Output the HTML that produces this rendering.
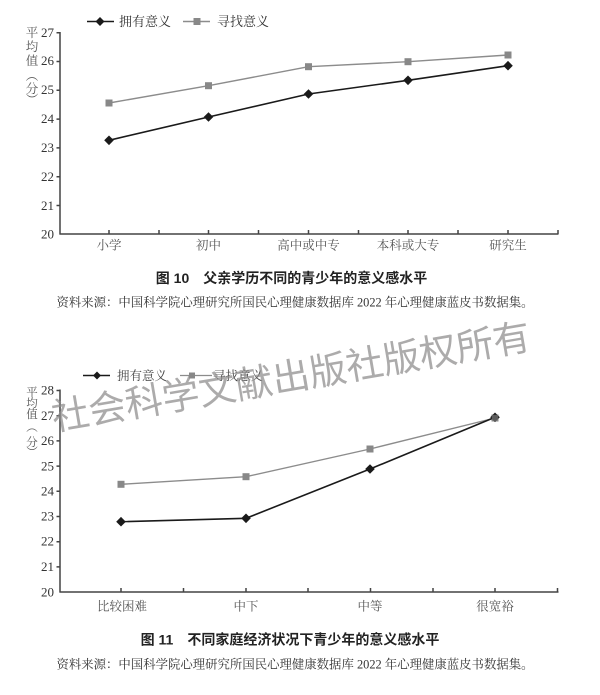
<!DOCTYPE html>
<html><head><meta charset="utf-8"><style>
html,body{margin:0;padding:0;background:#fff;}
svg{display:block;}
.serif{font-family:"Liberation Serif","Noto Serif CJK SC",serif;}
.sans{font-family:"Liberation Sans","Noto Sans CJK SC",sans-serif;}
</style></head><body>
<svg width="600" height="695" viewBox="0 0 600 695" xmlns="http://www.w3.org/2000/svg">
<rect width="600" height="695" fill="#fff"/>

<!-- ========== Chart 1 ========== -->
<g class="serif" fill="#333">
  <line x1="87" y1="21.5" x2="114" y2="21.5" stroke="#1a1a1a" stroke-width="1.6"/>
  <path d="M100 17 L104.5 21.5 L100 26 L95.5 21.5 Z" fill="#1a1a1a"/>
  <text x="119" y="26" font-size="13" fill="#333">拥有意义</text>
  <line x1="183" y1="21.5" x2="210" y2="21.5" stroke="#8c8c8c" stroke-width="1.4"/>
  <rect x="193.5" y="18" width="7" height="7" fill="#888"/>
  <text x="217" y="26" font-size="13" fill="#333">寻找意义</text>

  <g font-size="12.5" fill="#555" text-anchor="middle">
    <text x="32" y="37">平</text>
    <text x="32" y="51">均</text>
    <text x="32" y="65">值</text>
    <text x="32" y="80">︵</text>
    <text x="32" y="93">分</text>
    <text x="32" y="104">︶</text>
  </g>

  <g font-size="13" text-anchor="end" fill="#333">
    <text x="54" y="37">27</text>
    <text x="54" y="65">26</text>
    <text x="54" y="94">25</text>
    <text x="54" y="123">24</text>
    <text x="54" y="152">23</text>
    <text x="54" y="181">22</text>
    <text x="54" y="210">21</text>
    <text x="54" y="238.5">20</text>
  </g>

  <g stroke="#444" stroke-width="1.5" fill="none">
    <line x1="60" y1="32" x2="60" y2="234.5"/>
    <line x1="59.5" y1="234" x2="558.5" y2="234"/>
    <path d="M56.5 32.7H60 M56.5 61.5H60 M56.5 90.3H60 M56.5 119.1H60 M56.5 147.9H60 M56.5 176.7H60 M56.5 205.5H60"/>
    <path d="M109 230V234 M159 230V234 M208.5 230V234 M258.5 230V234 M308.5 230V234 M358.5 230V234 M408 230V234 M458 230V234 M508 230V234 M558 230V234"/>
  </g>

  <g font-size="12.5" text-anchor="middle" fill="#555">
    <text x="109" y="249.5">小学</text>
    <text x="208.5" y="249.5">初中</text>
    <text x="308.5" y="249.5">高中或中专</text>
    <text x="408" y="249.5">本科或大专</text>
    <text x="508" y="249.5">研究生</text>
  </g>

  <polyline points="109,103 208.5,85.7 308.5,66.7 408,61.7 508,55" fill="none" stroke="#8c8c8c" stroke-width="1.4"/>
  <g fill="#888">
    <rect x="105.5" y="99.5" width="7" height="7"/>
    <rect x="205" y="82.2" width="7" height="7"/>
    <rect x="305" y="63.2" width="7" height="7"/>
    <rect x="404.5" y="58.2" width="7" height="7"/>
    <rect x="504.5" y="51.5" width="7" height="7"/>
  </g>
  <polyline points="109,140.3 208.5,117 308.5,94 408,80.3 508,65.7" fill="none" stroke="#1a1a1a" stroke-width="1.6"/>
  <g fill="#1a1a1a">
    <path d="M109 135.5 L113.8 140.3 L109 145.1 L104.2 140.3 Z"/>
    <path d="M208.5 112.2 L213.3 117 L208.5 121.8 L203.7 117 Z"/>
    <path d="M308.5 89.2 L313.3 94 L308.5 98.8 L303.7 94 Z"/>
    <path d="M408 75.5 L412.8 80.3 L408 85.1 L403.2 80.3 Z"/>
    <path d="M508 60.9 L512.8 65.7 L508 70.5 L503.2 65.7 Z"/>
  </g>
</g>

<text class="sans" x="291.5" y="283" font-size="14" font-weight="bold" text-anchor="middle" fill="#222">图 10　父亲学历不同的青少年的意义感水平</text>
<text class="serif" x="295" y="306.5" font-size="12.4" text-anchor="middle" fill="#333">资料来源：中国科学院心理研究所国民心理健康数据库 2022 年心理健康蓝皮书数据集。</text>

<!-- ========== Chart 2 ========== -->
<g class="serif" fill="#333">
  <line x1="83" y1="375.5" x2="110" y2="375.5" stroke="#1a1a1a" stroke-width="1.5"/>
  <path d="M97 371.5 L101 375.5 L97 379.5 L93 375.5 Z" fill="#1a1a1a"/>
  <text x="117" y="380" font-size="12.5" fill="#444">拥有意义</text>
  <line x1="180" y1="375.5" x2="212" y2="375.5" stroke="#8c8c8c" stroke-width="1.3"/>
  <rect x="189" y="372.5" width="6" height="6" fill="#888"/>
  <text x="213" y="380" font-size="12.5" fill="#444">寻找意义</text>

  <g font-size="11.5" fill="#555" text-anchor="middle">
    <text x="32" y="396">平</text>
    <text x="32" y="407">均</text>
    <text x="32" y="418">值</text>
    <text x="32" y="431">︵</text>
    <text x="32" y="446">分</text>
    <text x="32" y="456">︶</text>
  </g>

  <g font-size="13" text-anchor="end" fill="#333">
    <text x="54" y="394.5">28</text>
    <text x="54" y="420">27</text>
    <text x="54" y="445">26</text>
    <text x="54" y="470.5">25</text>
    <text x="54" y="495.5">24</text>
    <text x="54" y="520.5">23</text>
    <text x="54" y="545.5">22</text>
    <text x="54" y="571">21</text>
    <text x="54" y="596.5">20</text>
  </g>

  <g stroke="#444" stroke-width="1.5" fill="none">
    <line x1="60" y1="389.5" x2="60" y2="592.5"/>
    <line x1="59.5" y1="592" x2="558.5" y2="592"/>
    <path d="M56.5 390.5H60 M56.5 415.7H60 M56.5 440.9H60 M56.5 466.1H60 M56.5 491.3H60 M56.5 516.5H60 M56.5 541.7H60 M56.5 566.9H60"/>
    <path d="M121 588V592 M183.5 588V592 M246 588V592 M308 588V592 M370.5 588V592 M433 588V592 M495 588V592 M557.5 588V592"/>
  </g>

  <g font-size="12.5" text-anchor="middle" fill="#555">
    <text x="122" y="610.5">比较困难</text>
    <text x="246" y="610.5">中下</text>
    <text x="370" y="610.5">中等</text>
    <text x="495" y="610.5">很宽裕</text>
  </g>

  <polyline points="121,484.3 246,476.7 370,449 495,418" fill="none" stroke="#8c8c8c" stroke-width="1.4"/>
  <g fill="#888">
    <rect x="117.5" y="480.8" width="7" height="7"/>
    <rect x="242.5" y="473.2" width="7" height="7"/>
    <rect x="366.5" y="445.5" width="7" height="7"/>
    <rect x="491.5" y="414.5" width="7" height="7"/>
  </g>
  <polyline points="121,521.7 246,518.3 370,469 495,417.3" fill="none" stroke="#1a1a1a" stroke-width="1.6"/>
  <g fill="#1a1a1a">
    <path d="M121 516.9 L125.8 521.7 L121 526.5 L116.2 521.7 Z"/>
    <path d="M246 513.5 L250.8 518.3 L246 523.1 L241.2 518.3 Z"/>
    <path d="M370 464.2 L374.8 469 L370 473.8 L365.2 469 Z"/>
    <path d="M495 412.5 L499.8 417.3 L495 422.1 L490.2 417.3 Z"/>
  </g>
  <rect x="491.8" y="414.8" width="6.4" height="6.4" fill="#888" opacity="0.6"/>
</g>

<text class="sans" x="290" y="644.5" font-size="14" font-weight="bold" text-anchor="middle" fill="#222">图 11　不同家庭经济状况下青少年的意义感水平</text>
<text class="serif" x="295" y="668.5" font-size="12.4" text-anchor="middle" fill="#333">资料来源：中国科学院心理研究所国民心理健康数据库 2022 年心理健康蓝皮书数据集。</text>

<!-- watermark -->
<text x="0" y="0" transform="translate(290.5 374) rotate(-9.7)" font-family="'Noto Sans CJK SC','WenQuanYi Zen Hei',sans-serif" font-size="37.3" text-anchor="middle" dominant-baseline="central" fill="rgb(140,138,138)" fill-opacity="0.72">社会科学文献出版社版权所有</text>
</svg>
</body></html>
